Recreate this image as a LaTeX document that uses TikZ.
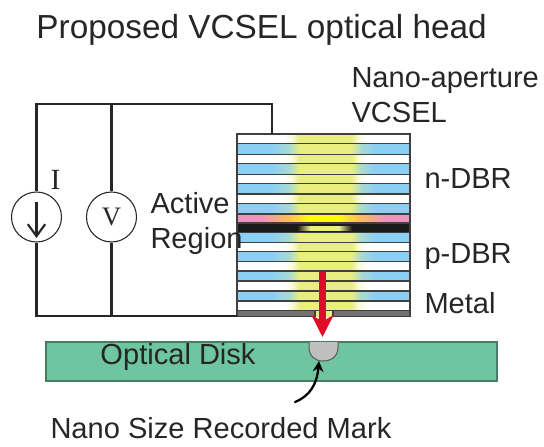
\documentclass[tikz,border=0pt]{standalone}
\usepackage{fontspec}
\setsansfont{Liberation Sans}
\newfontfamily\metersfont{Liberation Serif}
\usetikzlibrary{arrows.meta}
\definecolor{layerblue}{RGB}{140,207,245}
\definecolor{glow}{RGB}{233,238,128}
\definecolor{hotpink}{RGB}{238,147,190}
\definecolor{midorange}{RGB}{250,190,90}
\definecolor{diskgreen}{RGB}{111,197,160}
\definecolor{diskedge}{RGB}{70,125,100}
\definecolor{markred}{RGB}{225,10,40}
\definecolor{bandblack}{RGB}{26,26,26}
\pgfdeclarehorizontalshading{whiteshade}{100bp}{color(0bp)=(white);color(38.5bp)=(white);color(41bp)=(glow!30!white);color(43bp)=(glow);color(58bp)=(glow);color(60bp)=(glow!30!white);color(62.5bp)=(white);color(100bp)=(white)}
\pgfdeclarehorizontalshading{blueshade}{100bp}{color(0bp)=(layerblue);color(35bp)=(layerblue);color(40bp)=(glow!30!layerblue);color(43bp)=(glow);color(58bp)=(glow);color(61bp)=(glow!30!layerblue);color(65bp)=(layerblue);color(100bp)=(layerblue)}
\pgfdeclarehorizontalshading{pinkshade}{100bp}{color(0bp)=(hotpink);color(32bp)=(hotpink);color(40bp)=(midorange);color(46bp)=(yellow);color(54bp)=(yellow);color(60bp)=(midorange);color(68bp)=(hotpink);color(100bp)=(hotpink)}
\pgfdeclarehorizontalshading{spotshade}{100bp}{color(0bp)=(bandblack);color(25bp)=(bandblack);color(37bp)=(glow);color(63bp)=(glow);color(75bp)=(bandblack);color(100bp)=(bandblack)}
\tikzset{every picture/.style={line width=0.75pt},
  layerline/.style={draw={black!75},line width=1pt},
  whitelayer/.style={layerline,shading=whiteshade},
  bluelayer/.style={layerline,shading=blueshade},
  wire/.style={line width=1.6pt,color=black!85},
  midwire/.style={line width=2.3pt,color=black!85},
  meter/.style={circle,draw=black!85,line width=0.8pt,fill=white,minimum size=37.5pt,inner sep=0pt,font=\metersfont\fontsize{20}{20}\selectfont,text=black!85},
  sanslabel/.style={anchor=base west,inner sep=0pt,text=black!85,font=\sffamily\fontsize{21.8}{26}\selectfont}}

\begin{document}
\begin{tikzpicture}[x=0.75pt,y=0.75pt,yscale=-1,xscale=1]
\useasboundingbox (0,0) rectangle (544,447);

%Layers of the stack
\foreach \ya/\yb in {134/143.5,154.5/163.5,174.5/183.5,194/203.5,242.5/251.5,261.5/271,281/291,301/310.5}
  \draw [whitelayer] (237,\ya) rectangle (410,\yb);
\foreach \ya/\yb in {143.5/154.5,163.5/174.5,183.5/194,203.5/214,232.5/242.5,251.5/261.5,271/281,291/301}
  \draw [bluelayer] (237,\ya) rectangle (410,\yb);
\draw [layerline,shading=pinkshade] (237,214.5) rectangle (410,223);
\draw [layerline,fill=bandblack] (237,223) rectangle (410,232.5);
\shade [shading=spotshade] (297,226) rectangle (352,230);
%Metal with its aperture
\draw [layerline,fill=black!55] (237,310.5) rectangle (410,316.5);
\draw [layerline,fill=glow] (315,316.5) -- (315,310.5) -- (333,310.5) -- (333,316.5);

%Disk and mark
\draw [diskedge,fill=diskgreen,line width=1pt] (46,342) rectangle (497,381);
\draw [black!65,fill=black!25] (309,342) -- (309,347) .. controls (309,356) and (315,361) .. (323,361) .. controls (332,361) and (338,356) .. (338,347) -- (338,342);

% Text Node
\node (title) [sanslabel,font=\sffamily\fontsize{25}{30}\selectfont] at (36,38) {Proposed VCSEL optical head};
% Text Node
\node (aperture) [sanslabel] at (351,87) {Nano-aperture};
% Text Node
\node (vcsel) [sanslabel] at (351,122) {VCSEL};
% Text Node
\node (ndbr) [sanslabel] at (424,188) {n-DBR};
% Text Node
\node (pdbr) [sanslabel] at (424,263) {p-DBR};
% Text Node
\node (metal) [sanslabel] at (424,313) {Metal};
% Text Node
\node (active) [sanslabel] at (150,213) {Active};
% Text Node
\node (region) [sanslabel] at (150,248) {Region};
% Text Node
\node (disk) [sanslabel] at (100,364) {Optical Disk};
% Text Node
\node (markname) [sanslabel] at (50,438) {Nano Size Recorded Mark};
% Text Node
\node (ilabel) [anchor=base west,inner sep=0pt,text=black!85,font=\metersfont\fontsize{22}{22}\selectfont] at (50,189) {I};

% Sources
\node (isource) [meter] at (36.5,217) {};
\node (vmeter) [meter] at (111.5,217) {V};
\coordinate (topleft) at (36.5,104);
\coordinate (topmid) at (111.5,104);
\coordinate (topright) at (272,104);
\coordinate (stacktop) at (272,134);
\coordinate (botleft) at (36.5,316);
\coordinate (botmid) at (111.5,316);
\coordinate (stackbot) at (237,316);
\coordinate (arrowtop) at (36.5,202);
\coordinate (arrowend) at (36.5,238);
\coordinate (redtop) at (322.5,272);
\coordinate (redend) at (322.5,337);
\coordinate (markfoot) at (295,402);
\coordinate (markhead) at (319,361);

%Wires
\draw [wire] (isource) -- (topleft) -- (topright) -- (stacktop);
\draw [wire] (isource) -- (botleft) -- (stackbot);
\draw [midwire] (vmeter) -- (topmid);
\draw [midwire] (vmeter) -- (botmid);
%Arrows
\draw [line width=1.6pt,black!85,-{Straight Barb[length=9pt,width=13pt]}] (arrowtop) -- (arrowend);
\draw [markred,line width=4.8pt,-{Stealth[length=16pt,width=16pt,inset=4pt]}] (redtop) -- (redend);
\draw [black,line width=1.7pt,line cap=round,-{Stealth[length=8pt,width=8pt]}] (markfoot) .. controls (310,396) and (317,384) .. (markhead);
\end{tikzpicture}
\end{document}
